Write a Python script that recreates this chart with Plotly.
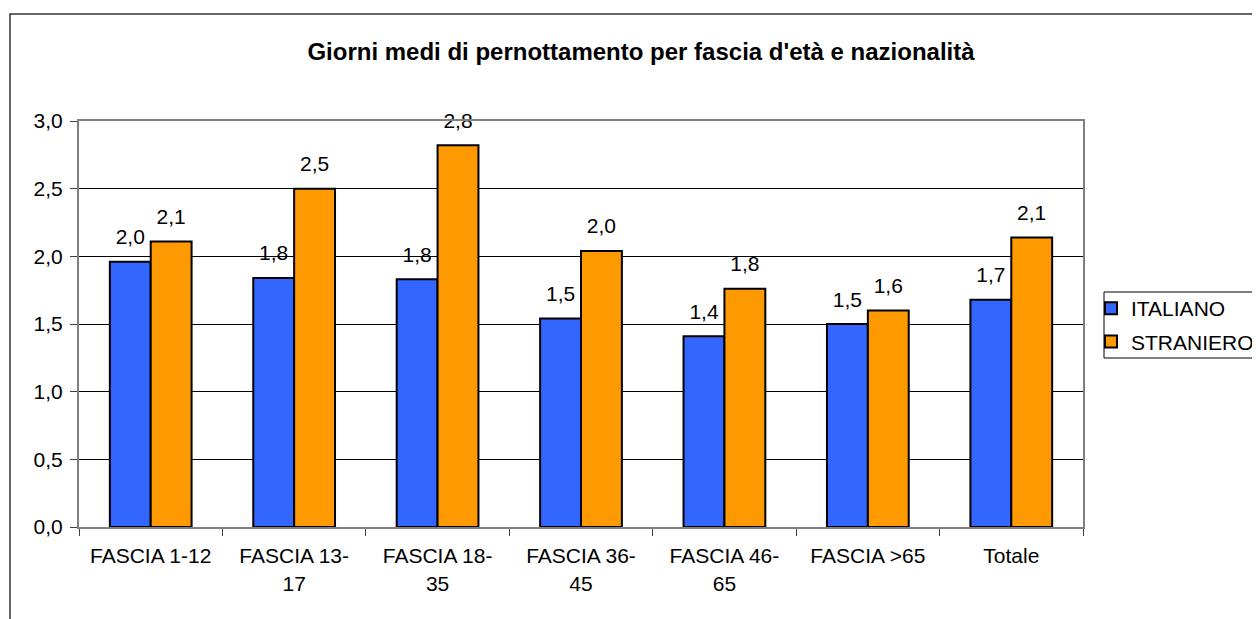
import plotly.graph_objects as go

categories = ["FASCIA 1-12", "FASCIA 13-17", "FASCIA 18-35", "FASCIA 36-45",
              "FASCIA 46-65", "FASCIA >65", "Totale"]
tick_labels = ["FASCIA 1-12", "FASCIA 13-<br>17", "FASCIA 18-<br>35", "FASCIA 36-<br>45",
               "FASCIA 46-<br>65", "FASCIA >65", "Totale"]
italiano = [1.96, 1.84, 1.83, 1.54, 1.41, 1.50, 1.68]
straniero = [2.11, 2.50, 2.82, 2.04, 1.76, 1.60, 2.14]
series_names = ["ITALIANO", "STRANIERO"]
y_ticks = [0.0, 0.5, 1.0, 1.5, 2.0, 2.5, 3.0]

colors = ["#3366FF", "#FF9900"]
FONT = "Liberation Sans, Arial, sans-serif"
O = 8  # page body margin
W, H = 1260 - O, 619 - O
L, R, T, B = 79 - O, 1260 - 1083, 121 - O, 619 - 527
pw, ph = W - L - R, H - T - B


def px_x(p):
    return (p - O - L) / pw


def px_y(p):
    return (H - B - (p - O)) / ph


def fmt(v):
    return f"{v:.1f}".replace(".", ",")


fig = go.Figure()
for name, vals, col, grp in zip(series_names, [italiano, straniero], colors, ["a", "b"]):
    fig.add_trace(go.Bar(
        x=categories, y=vals, name=name, offsetgroup=grp, legendgroup=grp,
        marker=dict(color=col, line=dict(color="black", width=2)),
        hoverinfo="skip",
    ))
for vals, grp in zip([italiano, straniero], ["a", "b"]):
    fig.add_trace(go.Scatter(
        x=categories, y=vals, offsetgroup=grp, mode="markers+text",
        text=[fmt(v) for v in vals], textposition="top center",
        textfont=dict(size=21, color="black", family=FONT),
        marker=dict(size=18, opacity=0),
        showlegend=False, hoverinfo="skip", cliponaxis=False,
    ))

fig.update_layout(
    width=W, height=H,
    margin=dict(l=L, r=R, t=T, b=B, autoexpand=False),
    paper_bgcolor="white", plot_bgcolor="white",
    barmode="group", bargap=0.43, bargroupgap=0,
    scattermode="group", scattergap=0.43,
    separators=",.",
    font=dict(family=FONT, size=21, color="black"),
    title=dict(text="<b>Giorni medi di pernottamento per fascia d'età e nazionalità</b>",
               x=(641 - O) / W, xanchor="center", y=1 - (52 - O) / H, yanchor="middle",
               font=dict(size=24, family=FONT, color="black")),
    xaxis=dict(
        type="category", categoryorder="array", categoryarray=categories,
        tickvals=categories, ticktext=tick_labels,
        showline=True, linecolor="#808080", linewidth=2, mirror=True,
        ticks="outside", tickson="boundaries", ticklen=7, tickcolor="#404040", tickwidth=1,
        showgrid=False, tickfont=dict(size=21, color="black"), ticklabelstandoff=9,
    ),
    yaxis=dict(
        range=[0, 3], tickvals=y_ticks, tickformat=".1f",
        showline=True, linecolor="#808080", linewidth=2, mirror=True,
        ticks="outside", ticklen=7, tickcolor="#404040", tickwidth=1,
        showgrid=True, gridcolor="black", gridwidth=1, zeroline=False,
        tickfont=dict(size=21, color="black"), ticklabelstandoff=3,
    ),
    legend=dict(
        x=px_x(1091), xanchor="left", y=px_y(288), yanchor="top",
        bgcolor="rgba(0,0,0,0)", borderwidth=0, tracegroupgap=3,
        font=dict(size=21, color="black", family=FONT),
    ),
    shapes=[
        dict(type="rect", xref="paper", yref="paper",
             x0=px_x(1104), x1=px_x(1255), y0=px_y(358), y1=px_y(292),
             line=dict(color="black", width=1), fillcolor="rgba(0,0,0,0)"),
        dict(type="rect", xref="paper", yref="paper",
             x0=px_x(10), x1=px_x(1300), y0=px_y(660), y1=px_y(14),
             line=dict(color="#333333", width=1.5), fillcolor="rgba(0,0,0,0)"),
    ],
)

fig.write_html("out.html")
